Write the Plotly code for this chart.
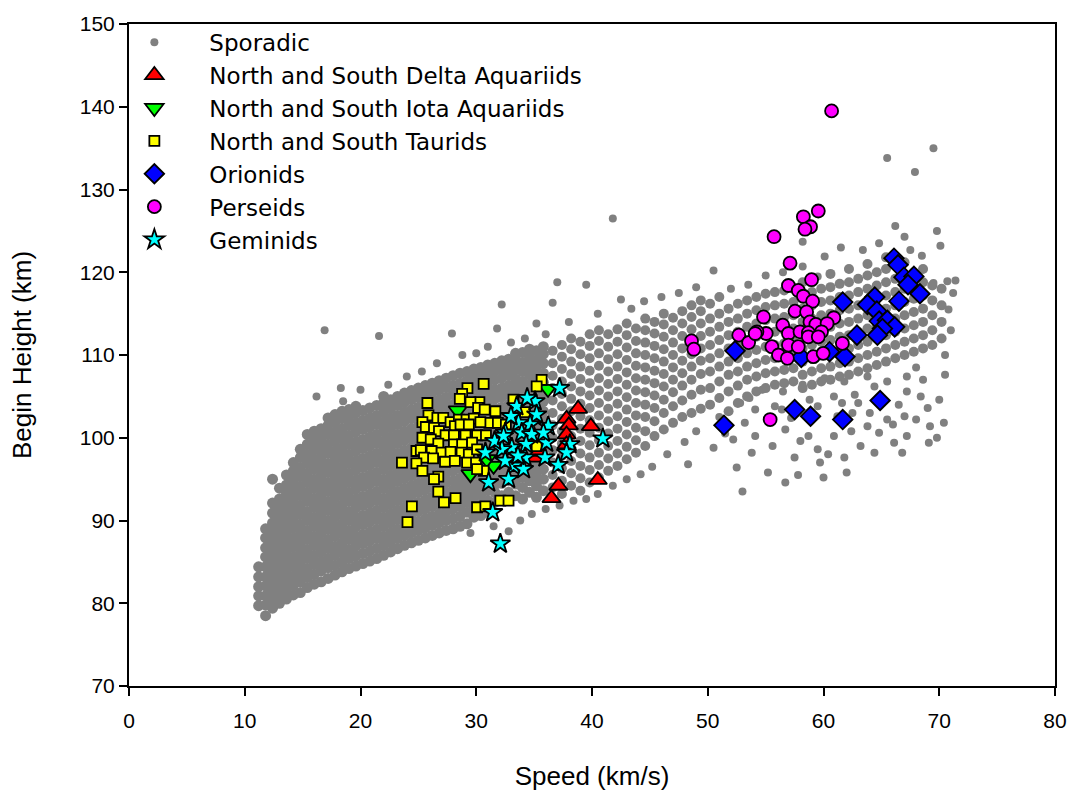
import plotly.graph_objects as go

# ---------------- data ----------------
# Sporadic meteors, dense core of the cloud: (speed, [heights])
sporadic_core_columns = [
    (11.2, [79.7, 80.9, 82.0, 83.2, 84.4]),
    (11.8, [78.5, 79.8, 80.9, 82.1, 83.2, 84.4, 85.6, 86.7, 87.9, 89.0]),
    (12.4, [79.4, 80.5, 81.7, 82.8, 84.0, 85.1, 86.3, 87.4, 88.6, 89.7, 90.9, 92.1, 95.0]),
    (13.0, [80.0, 81.1, 82.3, 83.4, 84.6, 85.7, 86.9, 88.0, 89.2, 90.3, 91.5, 92.6, 93.9]),
    (13.6, [80.5, 81.7, 82.8, 84.0, 85.1, 86.3, 87.4, 88.6, 89.7, 90.9, 92.0, 93.2, 94.3, 95.5]),
    (14.2, [81.0, 82.2, 83.3, 84.5, 85.6, 86.8, 87.9, 89.1, 90.2, 91.4, 92.5, 93.7, 94.8, 96.0, 97.0]),
    (14.8, [81.3, 82.6, 83.8, 84.9, 86.1, 87.2, 88.4, 89.5, 90.7, 91.8, 93.0, 94.1, 95.3, 96.4, 97.6, 98.6]),
    (15.4, [81.9, 83.1, 84.2, 85.4, 86.5, 87.7, 88.8, 90.0, 91.1, 92.3, 93.4, 94.6, 95.7, 96.9, 98.0, 99.2, 100.4]),
    (16.0, [82.3, 83.5, 84.7, 85.8, 87.0, 88.1, 89.3, 90.4, 91.6, 92.7, 93.9, 95.0, 96.2, 97.3, 98.5, 99.6, 100.8]),
    (16.6, [82.6, 83.9, 85.0, 86.2, 87.3, 88.5, 89.6, 90.8, 91.9, 93.1, 94.2, 95.4, 96.5, 97.7, 98.8, 100.0, 101.1]),
    (17.2, [83.0, 84.3, 85.4, 86.6, 87.7, 88.9, 90.0, 91.2, 92.3, 93.5, 94.6, 95.8, 96.9, 98.1, 99.2, 100.4, 101.5, 102.4]),
    (17.8, [83.4, 84.6, 85.8, 86.9, 88.1, 89.2, 90.4, 91.5, 92.7, 93.8, 95.0, 96.1, 97.3, 98.4, 99.6, 100.7, 101.9, 102.8]),
    (18.4, [83.8, 85.0, 86.2, 87.3, 88.5, 89.6, 90.8, 91.9, 93.1, 94.2, 95.4, 96.5, 97.7, 98.8, 100.0, 101.1, 102.3, 103.2]),
    (19.0, [84.2, 85.4, 86.5, 87.7, 88.8, 90.0, 91.1, 92.3, 93.4, 94.6, 95.7, 96.9, 98.0, 99.2, 100.3, 101.5, 102.6, 103.4]),
    (19.6, [84.5, 85.7, 86.9, 88.0, 89.2, 90.3, 91.5, 92.6, 93.8, 94.9, 96.1, 97.2, 98.4, 99.5, 100.7, 101.8, 103.0, 103.8]),
    (20.2, [84.8, 86.0, 87.2, 88.3, 89.5, 90.6, 91.8, 92.9, 94.1, 95.2, 96.4, 97.5, 98.7, 99.8, 101.0, 102.1, 103.3]),
    (20.8, [85.1, 86.3, 87.5, 88.6, 89.8, 90.9, 92.1, 93.2, 94.4, 95.5, 96.7, 97.8, 99.0, 100.1, 101.3, 102.4, 103.6]),
    (21.4, [85.4, 86.6, 87.8, 88.9, 90.1, 91.2, 92.4, 93.5, 94.7, 95.8, 97.0, 98.1, 99.3, 100.4, 101.6, 102.7, 103.9]),
    (22.0, [85.8, 87.0, 88.1, 89.3, 90.4, 91.6, 92.7, 93.9, 95.0, 96.2, 97.3, 98.5, 99.6, 100.8, 101.9, 103.1, 104.2, 105.0]),
    (22.6, [86.2, 87.4, 88.5, 89.7, 90.8, 92.0, 93.1, 94.3, 95.4, 96.6, 97.7, 98.9, 100.0, 101.2, 102.3, 103.5, 104.6]),
    (23.2, [86.6, 87.8, 88.9, 90.1, 91.2, 92.4, 93.5, 94.7, 95.8, 97.0, 98.1, 99.3, 100.4, 101.6, 102.7, 103.9, 105.0]),
    (23.8, [87.0, 88.2, 89.3, 90.5, 91.6, 92.8, 93.9, 95.1, 96.2, 97.4, 98.5, 99.7, 100.8, 102.0, 103.1, 104.3, 105.4]),
    (24.4, [87.3, 88.5, 89.6, 90.8, 91.9, 93.1, 94.2, 95.4, 96.5, 97.7, 98.8, 100.0, 101.1, 102.3, 103.4, 104.6, 105.7]),
    (25.0, [87.6, 88.8, 89.9, 91.1, 92.2, 93.4, 94.5, 95.7, 96.8, 98.0, 99.1, 100.3, 101.4, 102.6, 103.7, 104.9, 106.0]),
    (25.6, [87.9, 89.1, 90.2, 91.4, 92.5, 93.7, 94.8, 96.0, 97.1, 98.3, 99.4, 100.6, 101.7, 102.9, 104.0, 105.2, 106.3]),
    (26.2, [88.2, 89.4, 90.5, 91.7, 92.8, 94.0, 95.1, 96.3, 97.4, 98.6, 99.7, 100.9, 102.0, 103.2, 104.3, 105.5, 106.6]),
    (26.8, [88.5, 89.7, 90.8, 92.0, 93.1, 94.3, 95.4, 96.6, 97.7, 98.9, 100.0, 101.2, 102.3, 103.5, 104.6, 105.8, 106.9]),
    (27.4, [88.8, 90.0, 91.1, 92.3, 93.4, 94.6, 95.7, 96.9, 98.0, 99.2, 100.3, 101.5, 102.6, 103.8, 104.9, 106.1, 107.2]),
    (28.0, [89.0, 90.2, 91.4, 92.5, 93.7, 94.8, 96.0, 97.1, 98.3, 99.4, 100.6, 101.7, 102.9, 104.0, 105.2, 106.3, 107.5]),
    (28.6, [89.3, 90.5, 91.7, 92.8, 94.0, 95.1, 96.3, 97.4, 98.6, 99.7, 100.9, 102.0, 103.2, 104.3, 105.5, 106.6, 107.8]),
    (29.2, [89.6, 91.0, 92.2, 93.3, 94.3, 95.4, 96.6, 97.7, 98.9, 100.0, 101.2, 102.3, 103.5, 104.6, 105.8, 106.9, 108.0]),
    (29.8, [90.4, 91.6, 92.8, 93.9, 94.6, 95.7, 96.9, 98.0, 99.2, 100.3, 101.5, 102.6, 103.8, 104.9, 106.1, 107.2, 108.3]),
    (30.4, [90.6, 92.0, 93.2, 94.3, 94.9, 96.0, 97.2, 98.3, 99.5, 100.6, 101.8, 102.9, 104.1, 105.2, 106.4, 107.5, 108.5]),
    (31.0, [91.0, 92.4, 93.6, 94.8, 96.3, 97.5, 98.6, 99.8, 100.9, 102.1, 103.2, 104.4, 105.5, 106.7, 107.8, 108.8]),
    (31.6, [92.2, 93.4, 94.3, 95.5, 96.6, 97.8, 98.9, 100.1, 101.2, 102.4, 103.5, 104.7, 105.8, 107.0, 108.1, 109.0]),
    (32.2, [93.0, 94.5, 95.7, 96.8, 98.0, 99.1, 100.3, 101.4, 102.6, 103.7, 104.9, 106.0, 107.2, 108.3, 109.3]),
    (32.8, [93.4, 94.8, 96.0, 97.1, 98.3, 99.4, 100.6, 101.7, 102.9, 104.0, 105.2, 106.3, 107.5, 108.6, 109.5]),
    (33.4, [93.0, 94.4, 95.6, 96.8, 97.9, 99.1, 100.2, 101.4, 102.5, 103.7, 104.8, 106.0, 107.1, 108.3, 109.4, 110.2]),
    (34.0, [92.6, 94.0, 95.2, 96.4, 97.6, 98.8, 99.9, 101.1, 102.2, 103.4, 104.5, 105.7, 106.8, 108.0, 109.1, 110.3]),
    (34.6, [93.4, 94.8, 96.0, 97.2, 98.4, 99.5, 100.7, 101.8, 103.0, 104.1, 105.3, 106.4, 107.6, 108.7, 109.8, 110.7]),
    (35.2, [92.8, 94.2, 95.4, 96.6, 97.8, 99.0, 100.1, 101.3, 102.4, 103.6, 104.7, 105.9, 107.0, 108.2, 109.3, 110.5]),
    (35.8, [93.6, 95.0, 96.2, 97.4, 98.6, 99.8, 100.9, 102.1, 103.2, 104.4, 105.5, 106.7, 107.8, 109.0, 110.1, 111.0]),
]

# Sporadic meteors, looser band at higher speeds: (speed, [heights])
sporadic_band_columns = [
    (36.6, [94.0, 95.5, 97.0, 98.5, 100.0, 101.5, 103.0, 104.5, 106.0, 107.5, 109.0, 110.5]),
    (37.4, [93.2, 94.8, 96.3, 97.8, 99.3, 100.8, 102.3, 103.8, 105.3, 106.8, 108.3, 109.8, 111.2]),
    (38.2, [94.2, 95.7, 97.2, 98.7, 100.2, 101.7, 103.2, 104.7, 106.2, 107.7, 109.2, 110.7, 112.0]),
    (39.0, [93.6, 95.1, 96.6, 98.1, 99.6, 101.1, 102.6, 104.1, 105.6, 107.1, 108.6, 110.1, 111.6]),
    (39.8, [94.6, 96.1, 97.6, 99.1, 100.6, 102.1, 103.6, 105.1, 106.6, 108.1, 109.6, 111.1, 112.5]),
    (40.6, [95.2, 96.7, 98.2, 99.7, 101.2, 102.7, 104.2, 105.7, 107.2, 108.7, 110.2, 111.7, 113.0]),
    (41.4, [96.0, 97.5, 99.0, 100.5, 102.0, 103.5, 105.0, 106.5, 108.0, 109.5, 111.0, 112.5]),
    (42.2, [96.6, 98.1, 99.6, 101.1, 102.6, 104.1, 105.6, 107.1, 108.6, 110.1, 111.6, 113.1]),
    (43.0, [97.4, 98.9, 100.4, 101.9, 103.4, 104.9, 106.4, 107.9, 109.4, 110.9, 112.4, 113.8]),
    (43.8, [98.2, 99.7, 101.2, 102.7, 104.2, 105.7, 107.2, 108.7, 110.2, 111.7, 113.2]),
    (44.6, [99.0, 100.8, 102.5, 104.0, 105.5, 107.0, 108.5, 110.0, 111.5, 113.0, 114.4]),
    (45.4, [100.2, 102.0, 103.6, 105.1, 106.6, 108.1, 109.6, 111.1, 112.6, 114.0]),
    (46.2, [101.0, 103.0, 104.6, 106.2, 107.7, 109.2, 110.7, 112.2, 113.7, 115.0]),
    (47.0, [101.8, 103.8, 105.5, 107.0, 108.5, 110.0, 111.5, 113.0, 114.5]),
    (47.8, [102.5, 104.5, 106.3, 107.8, 109.3, 110.8, 112.3, 113.8, 115.3]),
    (48.6, [103.0, 105.2, 107.0, 108.6, 110.1, 111.6, 113.1, 114.6, 116.0]),
    (49.4, [103.5, 105.8, 107.7, 109.3, 110.8, 112.3, 113.8, 115.3, 116.6]),
    (50.2, [104.0, 106.0, 108.0, 109.6, 111.2, 112.8, 114.4, 116.2]),
    (51.0, [104.8, 106.8, 108.6, 110.2, 111.8, 113.4, 115.0, 117.0]),
    (51.8, [103.2, 105.6, 107.6, 109.2, 110.8, 112.4, 114.0, 115.6]),
    (52.6, [104.2, 106.3, 108.0, 109.6, 111.2, 112.8, 114.4, 116.2]),
    (53.4, [105.0, 107.0, 108.6, 110.2, 111.8, 113.4, 115.0, 116.6]),
    (54.2, [105.6, 107.4, 109.0, 110.6, 112.2, 113.8, 115.4, 117.0]),
    (55.0, [106.0, 107.8, 109.4, 111.0, 112.6, 114.2, 115.8, 117.4]),
    (55.8, [106.4, 108.0, 109.6, 111.2, 112.8, 114.4, 116.0, 117.6]),
    (56.6, [106.6, 108.2, 109.8, 111.4, 113.0, 114.6, 116.2, 117.8]),
    (57.4, [106.8, 108.4, 110.0, 111.6, 113.2, 114.8, 116.4, 118.0]),
    (58.2, [106.0, 107.6, 109.2, 110.8, 112.4, 114.0, 115.6, 117.2, 118.8]),
    (59.0, [106.4, 108.0, 109.6, 111.2, 112.8, 114.4, 116.0, 117.6, 119.2]),
    (59.8, [106.8, 108.4, 110.0, 111.6, 113.2, 114.8, 116.4, 118.0]),
    (60.6, [107.0, 108.6, 110.2, 111.8, 113.4, 115.0, 116.6, 118.2, 119.8]),
    (61.4, [107.4, 109.0, 110.6, 112.2, 113.8, 115.4, 117.0, 118.6]),
    (62.2, [107.6, 109.2, 110.8, 112.4, 114.0, 115.6, 117.2, 118.8, 120.4]),
    (63.0, [108.0, 109.6, 111.2, 112.8, 114.4, 116.0, 117.6, 119.2]),
    (63.8, [108.4, 110.0, 111.6, 113.2, 114.8, 116.4, 118.0, 119.6, 121.0]),
    (64.6, [108.8, 110.4, 112.0, 113.6, 115.2, 116.8, 118.4, 120.0]),
    (65.4, [109.2, 110.8, 112.4, 114.0, 115.6, 117.2, 118.8, 120.4, 121.8]),
    (66.2, [109.6, 111.2, 112.8, 114.4, 116.0, 117.6, 119.2, 120.8]),
    (67.0, [110.0, 111.6, 113.2, 114.8, 116.4, 118.0, 119.6, 121.2]),
    (67.8, [110.4, 112.0, 113.6, 115.2, 116.8, 118.4, 120.0]),
    (68.6, [110.8, 112.4, 114.0, 115.6, 117.2, 118.8, 120.4]),
    (69.4, [111.2, 113.0, 114.8, 116.6, 118.4]),
    (70.2, [112.0, 114.0, 116.0, 118.0]),
]

# Sporadic meteors: scattered points outside the cloud (speed, height)
sporadic_scatter = [
    (16.9, 113.0), (16.2, 105.0), (18.3, 106.0), (18.5, 104.4), (20.0, 105.8), (21.6, 112.3),
    (22.4, 106.4), (24.0, 107.4), (25.3, 108.0), (26.6, 109.0), (27.9, 112.6), (28.8, 110.0),
    (30.0, 110.2), (31.0, 111.0), (31.8, 113.2), (32.2, 116.1), (33.0, 111.5), (34.2, 112.0),
    (35.2, 113.8), (36.0, 112.5), (36.6, 116.3), (37.0, 118.8), (38.0, 114.0), (39.5, 118.5),
    (40.5, 115.0), (41.8, 126.5), (42.5, 116.7), (43.4, 115.6), (44.5, 116.5), (46.0, 117.0),
    (47.5, 117.5), (49.0, 118.2), (50.5, 120.2), (52.0, 118.0), (53.5, 118.5), (55.0, 119.6),
    (56.5, 120.0), (58.2, 123.7), (58.2, 120.7), (59.5, 119.5), (60.1, 121.9), (61.5, 123.0),
    (63.4, 122.7), (64.8, 123.5), (65.5, 133.8), (66.2, 125.6), (67.0, 124.3), (67.5, 122.7),
    (67.9, 132.1), (68.5, 122.0), (69.5, 135.0), (69.8, 125.0), (70.1, 123.2), (70.7, 118.9),
    (69.5, 118.7), (71.2, 117.5), (70.8, 115.5), (71.0, 113.0), (70.5, 110.0), (71.4, 119.0),
    (29.5, 88.5), (31.5, 89.3), (32.8, 88.7), (33.8, 90.0), (34.8, 90.8), (36.0, 91.4),
    (37.2, 91.8), (38.4, 92.4), (39.5, 92.6), (40.5, 93.2), (41.8, 94.2), (43.0, 95.0),
    (44.2, 95.6), (45.2, 96.5), (46.5, 98.0), (48.0, 99.5), (49.0, 100.8), (48.3, 96.8),
    (50.5, 98.8), (51.5, 100.5), (52.8, 104.2), (52.5, 96.4), (53.2, 101.8), (54.1, 103.4),
    (54.1, 100.2), (54.7, 105.8), (55.2, 95.8), (56.4, 103.4), (56.5, 105.6), (56.7, 101.0),
    (56.7, 94.6), (57.5, 97.6), (58.2, 106.4), (58.7, 100.2), (59.5, 103.8), (59.5, 98.6),
    (59.7, 97.0), (60.1, 107.2), (60.9, 105.0), (60.9, 100.2), (61.8, 106.8), (61.8, 97.6),
    (62.7, 105.2), (63.2, 99.0), (63.8, 107.4), (63.8, 101.4), (64.4, 106.2), (64.4, 98.2),
    (65.5, 106.8), (65.5, 102.2), (66.1, 99.4), (67.0, 102.6), (67.2, 107.4), (67.2, 105.6),
    (67.2, 100.2), (68.4, 105.0), (69.0, 103.6), (69.1, 99.4), (69.2, 101.4), (70.4, 101.8),
    (70.5, 107.6), (53.0, 93.5), (57.8, 95.5), (62.5, 103.0), (66.5, 104.0), (68.0, 108.5),
    (51.0, 102.5), (53.8, 98.2), (55.6, 99.0), (57.2, 102.4), (58.0, 99.6), (60.4, 98.0),
    (61.2, 102.6), (62.4, 100.8), (63.0, 104.2), (64.0, 103.0), (66.0, 101.6), (68.0, 102.2),
    (68.6, 107.0), (70.0, 104.6), (55.8, 103.8), (53.6, 104.8), (52.2, 99.8), (60.0, 95.2),
    (62.0, 95.8), (64.8, 100.6), (66.8, 98.2), (69.8, 100.0), (58.8, 104.6), (61.6, 104.2),
]

delta_speed = [38.8, 37.8, 38.0, 39.9, 37.8, 37.8, 35.1, 35.4, 40.5, 37.1, 36.5]
delta_height = [103.5, 102.3, 101.5, 101.4, 100.4, 99.2, 97.6, 98.3, 94.9, 94.2, 92.7]

iota_speed = [36.2, 29.5, 28.4, 31.5, 30.9]
iota_height = [105.9, 95.6, 103.3, 96.6, 97.4]

taurid_speed = [
    30.64, 29.24, 28.78, 28.58, 25.78, 30.27, 29.50, 30.16, 30.73, 31.65, 25.87, 26.64, 27.15,
    27.78, 28.50, 29.16, 29.79, 31.13, 31.87, 25.35, 25.64, 26.35, 26.78, 28.15, 28.64, 29.36,
    30.36, 27.35, 28.07, 29.07, 30.07, 30.84, 25.35, 26.07, 26.72, 28.07, 28.78, 29.64, 24.83,
    25.21, 26.15, 27.01, 27.78, 28.73, 29.36, 30.07, 25.49, 26.27, 27.30, 28.15, 29.21, 29.98,
    23.58, 24.83, 25.35, 26.72, 30.64, 26.35, 26.72, 28.21, 27.21, 24.44, 24.06, 30.07, 30.79,
    32.08, 32.79, 30.07, 35.65, 35.22, 33.22, 34.22, 32.56, 35.22,
]
taurid_height = [
    106.5, 106.0, 105.3, 104.7, 104.2, 104.3, 104.3, 103.6, 103.4, 103.2, 102.7, 102.4, 102.4,
    101.9, 102.2, 102.2, 102.3, 101.8, 101.8, 101.9, 101.3, 101.2, 100.8, 101.4, 101.6, 101.6,
    101.9, 100.3, 100.3, 100.3, 100.3, 100.3, 100.0, 99.8, 99.3, 99.2, 99.2, 99.4, 98.4,
    98.5, 98.4, 98.2, 98.3, 98.2, 98.0, 98.6, 97.6, 97.5, 97.1, 97.2, 97.0, 97.0,
    97.0, 96.9, 96.0, 95.3, 96.0, 95.0, 93.5, 92.7, 92.2, 91.7, 89.8, 91.6, 91.7,
    92.4, 92.4, 96.2, 107.0, 106.2, 104.6, 103.1, 101.6, 99.0,
]

orionid_speed = [66.09, 66.44, 66.95, 67.81, 67.30, 68.33, 61.66, 64.43, 63.80, 64.61, 66.52,
                 64.81, 65.52, 66.15, 65.09, 64.66, 62.89, 61.86, 64.89, 61.66, 58.08, 60.52,
                 57.51, 58.88, 52.36, 51.4]
orionid_height = [121.7, 120.9, 119.4, 119.5, 118.5, 117.4, 116.4, 117.0, 116.1, 115.3, 116.5,
                  114.1, 114.2, 113.4, 113.2, 112.4, 112.4, 109.8, 104.5, 102.2, 109.7, 110.4,
                  103.4, 102.6, 110.5, 101.5]

perseid_speed = [60.7, 59.55, 58.26, 58.88, 58.40, 55.73, 57.11, 58.97, 56.97, 57.82, 58.26,
                 59.06, 54.82, 57.54, 58.54, 60.89, 56.48, 58.83, 59.34, 60.31, 55.05, 56.97,
                 57.97, 58.69, 59.83, 55.54, 56.11, 56.97, 57.82, 58.69, 59.55, 56.88, 59.12,
                 59.97, 61.63, 54.25, 52.68, 53.53, 54.10, 55.39, 48.6, 48.8]
perseid_height = [139.5, 127.4, 126.7, 125.5, 125.2, 124.3, 121.1, 119.1, 118.4, 117.8, 117.1,
                  116.5, 114.6, 115.3, 115.2, 114.5, 113.6, 114.0, 113.7, 113.8, 112.6, 112.6,
                  112.8, 112.7, 112.8, 111.0, 110.0, 111.2, 111.0, 112.2, 112.2, 109.6, 109.8,
                  110.2, 111.4, 112.8, 112.4, 111.5, 112.6, 102.2, 111.7, 110.7]

geminid_speed = [37.2, 35.08, 33.50, 35.22, 36.22, 34.65, 33.65, 32.50, 33.93, 34.79, 36.08,
                 34.31, 33.07, 32.22, 35.94, 34.22, 33.22, 34.08, 37.08, 32.79, 40.94, 38.09,
                 37.80, 32.08, 31.07, 31.42, 30.79, 31.59, 32.36, 32.50, 33.0, 35.8, 33.6, 34.4]
geminid_height = [106.0, 104.4, 103.8, 102.8, 101.4, 101.6, 101.8, 100.6, 100.6, 100.4, 99.4,
                  99.2, 98.8, 98.6, 97.6, 97.6, 96.6, 96.2, 96.7, 95.0, 99.9, 99.2,
                  98.2, 87.2, 94.6, 91.0, 98.2, 99.6, 100.2, 97.2, 102.6, 100.6, 97.8, 104.8]

x_ticks = [0, 10, 20, 30, 40, 50, 60, 70, 80]
y_ticks = [70, 80, 90, 100, 110, 120, 130, 140, 150]

# ---------------- build figure ----------------
def expand(columns):
    xs, ys = [], []
    for sp, hs in columns:
        for h in hs:
            xs.append(sp)
            ys.append(h)
    return xs, ys

core_x, core_y = expand(sporadic_core_columns)
band_x, band_y = expand(sporadic_band_columns)
scat_x = [p[0] for p in sporadic_scatter]
scat_y = [p[1] for p in sporadic_scatter]

FONT = "Arial, Liberation Sans, sans-serif"
TICKFONT = "Liberation Sans Narrow, Arial Narrow, Arial, sans-serif"
LEGENDFONT = "DejaVu Sans, Arial, sans-serif"
GRAY = "#808080"
outline = dict(color="black", width=1.8)

fig = go.Figure()
fig.add_trace(go.Scatter(x=scat_x, y=scat_y, mode="markers", name="Sporadic", legendgroup="g1",
                         marker=dict(symbol="circle", size=8, color=GRAY, line=dict(width=0))))
fig.add_trace(go.Scatter(x=core_x, y=core_y, mode="markers", name="Sporadic", legendgroup="g1",
                         showlegend=False,
                         marker=dict(symbol="circle", size=11, color=GRAY, line=dict(width=0))))
fig.add_trace(go.Scatter(x=band_x, y=band_y, mode="markers", name="Sporadic", legendgroup="g1",
                         showlegend=False,
                         marker=dict(symbol="circle", size=10, color=GRAY, line=dict(width=0))))
fig.add_trace(go.Scatter(x=delta_speed, y=delta_height, mode="markers", legendgroup="g2",
                         name="North and South Delta Aquariids",
                         marker=dict(symbol="triangle-up", size=16, color="#FF0000", line=outline)))
fig.add_trace(go.Scatter(x=iota_speed, y=iota_height, mode="markers", legendgroup="g3",
                         name="North and South Iota Aquariids",
                         marker=dict(symbol="triangle-down", size=16, color="#00FF00", line=outline)))
fig.add_trace(go.Scatter(x=taurid_speed, y=taurid_height, mode="markers", legendgroup="g4",
                         name="North and South Taurids",
                         marker=dict(symbol="square", size=10, color="#FFFF00", line=outline)))
fig.add_trace(go.Scatter(x=orionid_speed, y=orionid_height, mode="markers", name="Orionids",
                         legendgroup="g5",
                         marker=dict(symbol="diamond", size=15, color="#0000FF", line=outline)))
fig.add_trace(go.Scatter(x=perseid_speed, y=perseid_height, mode="markers", name="Perseids",
                         legendgroup="g6",
                         marker=dict(symbol="circle", size=13, color="#FF00FF", line=outline)))
fig.add_trace(go.Scatter(x=geminid_speed, y=geminid_height, mode="markers", name="Geminids",
                         legendgroup="g7",
                         marker=dict(symbol="star", size=15, color="#00FFFF", line=outline)))

axis_common = dict(showgrid=False, zeroline=False, showline=True, linecolor="black", linewidth=2,
                   mirror=True, ticks="outside", ticklen=8, tickwidth=1.5, tickcolor="black",
                   tickfont=dict(family=TICKFONT, size=21, color="black"))

fig.update_layout(
    width=1079, height=800,
    margin=dict(l=129, r=18, t=17, b=114),
    paper_bgcolor="white", plot_bgcolor="white",
    font=dict(family=FONT, color="black"),
    xaxis=dict(range=[0, 80], tickvals=x_ticks, ticklabelstandoff=7,
               title=dict(text="Speed (km/s)", font=dict(family=FONT, size=26), standoff=36),
               **axis_common),
    yaxis=dict(range=[70, 150], tickvals=y_ticks,
               title=dict(text="Begin Height (km)", font=dict(family=FONT, size=26), standoff=41),
               **axis_common),
    legend=dict(x=-0.032, y=1.005, xanchor="left", yanchor="top", bgcolor="rgba(0,0,0,0)",
                borderwidth=0, font=dict(family=LEGENDFONT, size=23), itemwidth=100,
                tracegroupgap=0, itemsizing="trace"),
    showlegend=True,
)

fig.write_html("out.html")
